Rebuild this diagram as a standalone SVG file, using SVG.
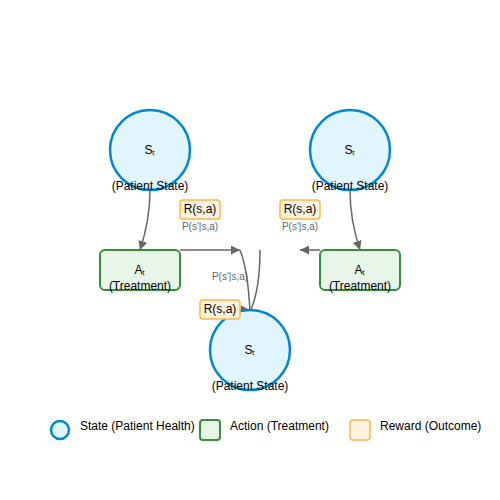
<svg xmlns="http://www.w3.org/2000/svg" width="500" height="500" viewBox="0 0 500 500">
<defs>
<marker id="arr" viewBox="0 0 10 10" refX="10" refY="5" markerWidth="9" markerHeight="9" orient="auto" markerUnits="userSpaceOnUse">
<path d="M0,0 L10,5 L0,10 z" fill="#666"/>
</marker>
<style>
.st{fill:#e1f5fe;stroke:#0288d1;stroke-width:2.5}
.ac{fill:#e8f5e9;stroke:#388e3c;stroke-width:2}
.rw{fill:#fff3e0;stroke:#ffb74d;stroke-width:1.5}
.t{font-family:"Liberation Sans",Arial,sans-serif;font-size:12px;fill:#000;text-anchor:middle}
.p{font-family:"Liberation Sans",Arial,sans-serif;font-size:10px;fill:#666;text-anchor:middle}
.lg{font-family:"Liberation Sans",Arial,sans-serif;font-size:12px;fill:#000}
.c{fill:none;stroke:#666;stroke-width:1.5}
</style>
</defs>
<rect width="500" height="500" fill="#fff"/>
<g id="connectors">
<path class="c" d="M150,190 Q150,220 140,250" marker-end="url(#arr)"/>
<path class="c" d="M350,190 Q350,220 360,250" marker-end="url(#arr)"/>
<path class="c" d="M180,250 L240,250" marker-end="url(#arr)"/>
<path class="c" d="M320,250 L300,250" marker-end="url(#arr)"/>
<path class="c" d="M240,250 Q248,270 250,312"/>
<path class="c" d="M260,250 Q260,290 250,312"/>
<path class="c" d="M240,310 L250,310" marker-end="url(#arr)"/>
</g>
<g id="s1">
<circle class="st" cx="150" cy="150" r="40"/>
<text class="t" x="150" y="154">Sₜ</text>
<text class="t" x="150" y="190">(Patient State)</text>
</g>
<g id="s2">
<circle class="st" cx="350" cy="150" r="40"/>
<text class="t" x="350" y="154">Sₜ</text>
<text class="t" x="350" y="190">(Patient State)</text>
</g>
<g id="s3">
<circle class="st" cx="250" cy="350" r="40"/>
<text class="t" x="250" y="354">Sₜ</text>
<text class="t" x="250" y="390">(Patient State)</text>
</g>
<g id="a1">
<rect class="ac" x="100" y="250" width="80" height="40" rx="5"/>
<text class="t" x="140" y="274">Aₜ</text>
<text class="t" x="140" y="290">(Treatment)</text>
</g>
<g id="a2">
<rect class="ac" x="320" y="250" width="80" height="40" rx="5"/>
<text class="t" x="360" y="274">Aₜ</text>
<text class="t" x="360" y="290">(Treatment)</text>
</g>
<g id="r1">
<rect class="rw" x="180" y="200" width="40" height="19" rx="3"/>
<text class="t" x="200" y="213">R(s,a)</text>
<text class="p" x="200" y="230">P(s'|s,a)</text>
</g>
<g id="r2">
<rect class="rw" x="280" y="200" width="40" height="19" rx="3"/>
<text class="t" x="300" y="213">R(s,a)</text>
<text class="p" x="300" y="230">P(s'|s,a)</text>
</g>
<g id="r3">
<rect class="rw" x="200" y="300" width="40" height="19" rx="3"/>
<text class="t" x="220" y="313">R(s,a)</text>
<text class="p" x="230" y="280">P(s'|s,a)</text>
</g>
<g id="legend">
<circle class="st" cx="60" cy="430" r="9" stroke-width="2"/>
<text class="lg" x="80" y="430">State (Patient Health)</text>
<rect class="ac" x="200" y="420" width="20" height="20" rx="3"/>
<text class="lg" x="230" y="430">Action (Treatment)</text>
<rect class="rw" x="350" y="420" width="20" height="20" rx="3"/>
<text class="lg" x="380" y="430">Reward (Outcome)</text>
</g>
</svg>
